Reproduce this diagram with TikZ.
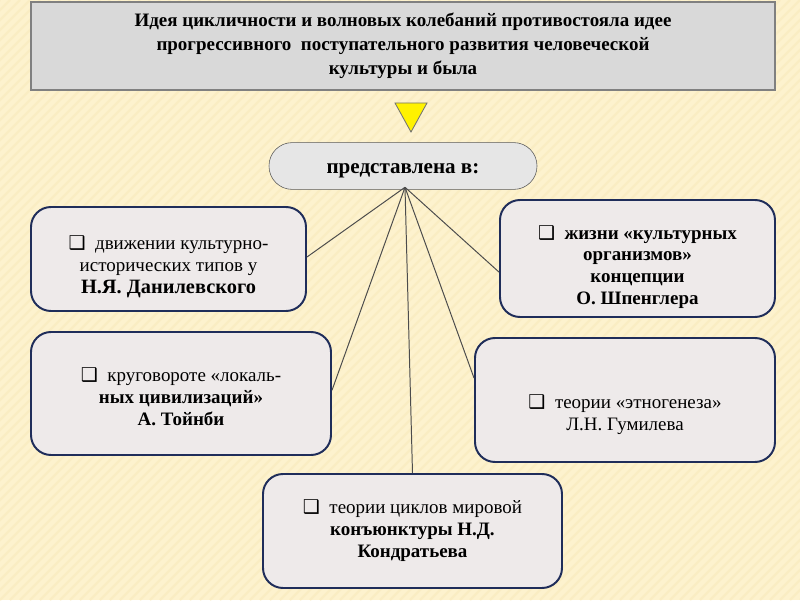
\documentclass[tikz,border=0pt]{standalone}
\usepackage{fontspec}
\setmainfont{Liberation Serif}
\newfontfamily\symf{DejaVu Sans}
\usetikzlibrary{positioning}
\definecolor{bgcol}{RGB}{253, 242, 206}
\definecolor{stripecol}{RGB}{249, 234, 188}
\definecolor{hdrfill}{RGB}{217, 217, 217}
\definecolor{hdrline}{RGB}{128, 128, 128}
\definecolor{boxfill}{RGB}{238, 234, 234}
\definecolor{boxline}{RGB}{31, 45, 90}
\definecolor{repfill}{RGB}{230, 230, 230}
\def\chk{{\symf ❑}\ \ }
\def\lift#1{\rule{0pt}{#1}}

\begin{document}
\begin{tikzpicture}[
  hdr/.style={rectangle,draw=hdrline,line width=1.4pt,fill=hdrfill,
              minimum width=18.6cm,minimum height=2.2cm,align=center,
              font=\fontsize{13.5}{17}\selectfont\bfseries},
  repbox/.style={rectangle,rounded corners=0.58cm,draw=black!65,fill=repfill,
                 minimum width=6.7cm,minimum height=1.17cm,
                 text height=13pt,text depth=2pt,
                 font=\fontsize{15}{18}\selectfont\bfseries},
  item/.style={rectangle,rounded corners=0.5cm,draw=boxline,line width=1.4pt,
               fill=boxfill,align=center,font=\fontsize{13.5}{15.6}\selectfont},
  link/.style={black!70,line width=0.7pt},
]
  % --- background ---
  \fill[bgcol] (0,0) rectangle (20,15);
  \begin{scope}
    \clip (0,0) rectangle (20,15);
    \foreach \i in {-15,-14.75,...,20}
      \draw[stripecol,line width=1.6pt,opacity=0.6] (\i,0) -- (\i+15,15);
  \end{scope}
  \useasboundingbox (0,0) rectangle (20,15);

  % --- heading ---
  \node[hdr] (top) at (10.075,13.85) {Идея цикличности и волновых колебаний противостояла идее\\
    прогрессивного \ поступательного развития человеческой\\ культуры и была};

  % --- marker ---
  \draw[black!55,fill=yellow,line width=0.6pt] (9.875,12.425) -- (10.675,12.425) -- (10.275,11.7) -- cycle;

  % --- centre ---
  \node[repbox] (rep) at (10.075,10.85) {представлена в:};
  \coordinate (hub) at ([xshift=0.05cm,yshift=0.06cm]rep.south);

  % --- items ---
  \node[item,minimum width=6.875cm,minimum height=2.6cm] (danil) at (4.2125,8.525)
    {\lift{21pt}\chk движении культурно-\\ исторических типов у\\ {\bfseries\fontsize{14.5}{16}\selectfont Н.Я. Данилевского}};
  \node[item,minimum width=6.875cm,minimum height=2.925cm,
        font=\fontsize{13.5}{15.6}\selectfont\bfseries] (spengl) at (15.9375,8.5375)
    {\lift{22pt}\chk жизни «культурных\\ организмов»\\ концепции\\ О. Шпенглера};
  \node[item,minimum width=7.5cm,minimum height=3.075cm] (toynbee) at (4.525,5.1625)
    {\lift{15pt}\chk круговороте «локаль-\\ {\bfseries ных цивилизаций»}\\ {\bfseries А. Тойнби}};
  \node[item,minimum width=7.5cm,minimum height=3.1cm] (gumil) at (15.625,5.0)
    {\lift{31pt}\chk теории «этногенеза»\\ Л.Н. Гумилева};
  \node[item,minimum width=7.475cm,minimum height=2.85cm] (kondr) at (10.3125,1.725)
    {\chk теории циклов мировой\\ {\bfseries конъюнктуры Н.Д.}\\ {\bfseries Кондратьева}};

  % --- connectors ---
  \draw[link] (hub) -- ([yshift=0.05cm]danil.east);
  \draw[link] (hub) -- ([yshift=-0.34cm]spengl.west);
  \draw[link] (hub) -- ([yshift=0.08cm]toynbee.east);
  \draw[link] (hub) -- ([yshift=0.55cm]gumil.west);
  \draw[link] (hub) -- (kondr.north);

\end{tikzpicture}
\end{document}
